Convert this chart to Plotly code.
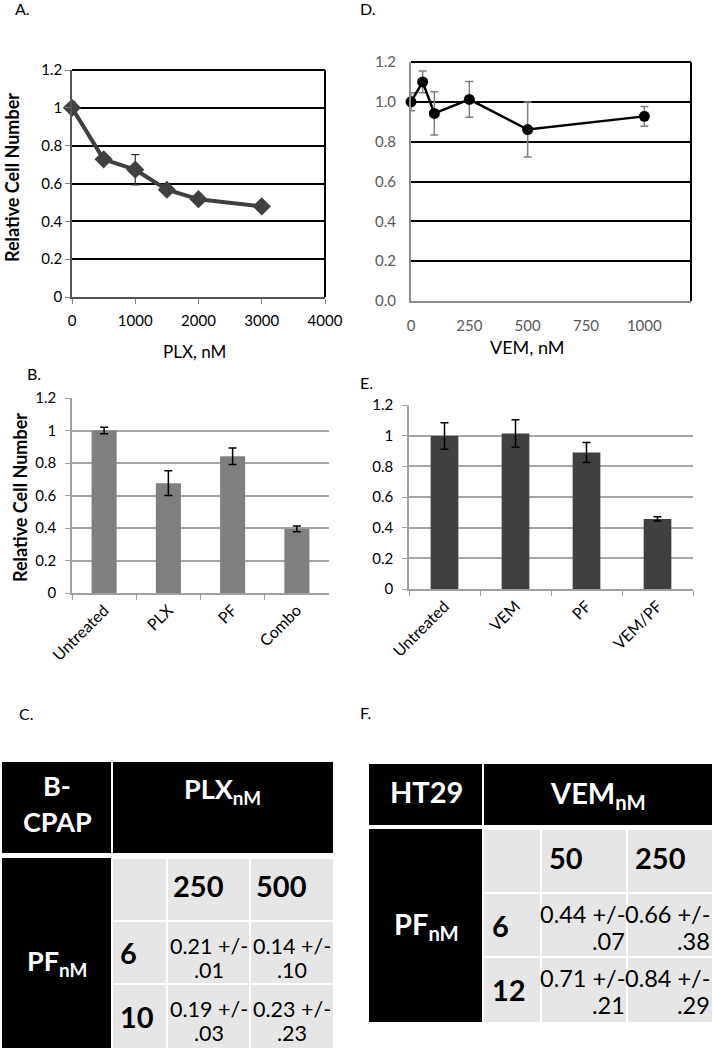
import plotly.graph_objects as go

FIG_W, FIG_H = 714, 1050
FONT = "Lato, Carlito, 'Open Sans', sans-serif"

# ---------------- data ----------------
# Panel A: PLX dose response
plx_dose = [0, 500, 1000, 1500, 2000, 3000]
plx_rel = [1.0, 0.728, 0.673, 0.567, 0.517, 0.479]
plx_err = [0.03, 0.02, 0.08, 0.02, 0.012, 0.022]
plx_xticks = [0, 1000, 2000, 3000, 4000]

# Panel D: VEM dose response
vem_dose = [0, 50, 100, 250, 500, 1000]
vem_rel = [1.0, 1.10, 0.942, 1.012, 0.861, 0.927]
vem_err = [0.045, 0.055, 0.108, 0.09, 0.138, 0.05]
vem_xticks = [0, 250, 500, 750, 1000]

# Panel B: bars
b_cats = ["Untreated", "PLX", "PF", "Combo"]
b_vals = [1.0, 0.676, 0.842, 0.395]
b_err = [0.02, 0.076, 0.051, 0.018]

# Panel E: bars
e_cats = ["Untreated", "VEM", "PF", "VEM/PF"]
e_vals = [0.998, 1.014, 0.89, 0.457]
e_err = [0.087, 0.089, 0.065, 0.014]

# Panel C table
c_corner = ["B-", "CPAP"]
c_col_title = "PLX<sub>nM</sub>"
c_row_title = "PF<sub>nM</sub>"
c_col_labels = ["250", "500"]
c_row_labels = ["6", "10"]
c_line1 = [["0.21 +/-", "0.14 +/-"], ["0.19 +/-", "0.23 +/-"]]
c_line2 = [[".01", ".10"], [".03", ".23"]]

# Panel F table
f_corner = ["HT29"]
f_col_title = "VEM<sub>nM</sub>"
f_row_title = "PF<sub>nM</sub>"
f_col_labels = ["50", "250"]
f_row_labels = ["6", "12"]
f_line1 = [["0.44 +/-", "0.66 +/-"], ["0.71 +/-", "0.84 +/-"]]
f_line2 = [[".07", ".38"], [".21", ".29"]]


def dom_x(a, b):
    return [a / FIG_W, b / FIG_W]


def dom_y(top, bottom):
    return [1 - bottom / FIG_H, 1 - top / FIG_H]


def py(p):
    return 1 - p / FIG_H


fig = go.Figure()

# ---------------- traces ----------------
fig.add_trace(go.Scatter(
    x=plx_dose, y=plx_rel, mode="lines+markers", xaxis="x", yaxis="y",
    line=dict(color="#404040", width=4),
    marker=dict(symbol="diamond", size=14, color="#404040"),
    error_y=dict(type="data", array=plx_err, color="#303030", thickness=1.2, width=4),
    cliponaxis=False, showlegend=False, hoverinfo="skip"))

fig.add_trace(go.Scatter(
    x=vem_dose, y=vem_rel, mode="lines+markers", xaxis="x2", yaxis="y2",
    line=dict(color="black", width=2.5),
    marker=dict(symbol="circle", size=11, color="black"),
    error_y=dict(type="data", array=vem_err, color="#7f7f7f", thickness=1.5, width=4),
    cliponaxis=False, showlegend=False, hoverinfo="skip"))

fig.add_trace(go.Bar(
    x=b_cats, y=b_vals, xaxis="x3", yaxis="y3", width=0.39,
    marker=dict(color="#7f7f7f", line=dict(width=0)),
    error_y=dict(type="data", array=b_err, color="black", thickness=1.5, width=4),
    showlegend=False, hoverinfo="skip"))

fig.add_trace(go.Bar(
    x=e_cats, y=e_vals, xaxis="x4", yaxis="y4", width=0.39,
    marker=dict(color="#404040", line=dict(width=0)),
    error_y=dict(type="data", array=e_err, color="black", thickness=1.5, width=4),
    showlegend=False, hoverinfo="skip"))

# invisible anchors for table axes
fig.add_trace(go.Scatter(x=[0], y=[0], xaxis="x5", yaxis="y5", mode="markers",
                         marker=dict(opacity=0), showlegend=False, hoverinfo="skip"))
fig.add_trace(go.Scatter(x=[0], y=[0], xaxis="x6", yaxis="y6", mode="markers",
                         marker=dict(opacity=0), showlegend=False, hoverinfo="skip"))

tick_black = dict(family=FONT, size=15, color="black")
tick_gray = dict(family=FONT, size=15, color="#595959")
cat_font = dict(family=FONT, size=16, color="black")

layout = dict(
    template="none",
    width=FIG_W, height=FIG_H, autosize=False,
    margin=dict(l=0, r=0, t=0, b=0, pad=0, autoexpand=False),
    paper_bgcolor="white", plot_bgcolor="white",
    font=dict(family=FONT, color="black"),
    showlegend=False,
    # A
    xaxis=dict(domain=dom_x(72, 325), anchor="y", range=[0, 4000], tickvals=plx_xticks,
               ticks="outside", ticklen=5, tickcolor="#808080", showline=True,
               linecolor="#555555", linewidth=1.5, showgrid=False, zeroline=False,
               tickfont=tick_black, ticklabelstandoff=4, automargin=False),
    yaxis=dict(domain=dom_y(70, 297), anchor="x", range=[0, 1.2], tick0=0, dtick=0.2,
               ticks="outside", ticklen=5, tickcolor="#808080", showline=True,
               linecolor="#555555", linewidth=1.5, showgrid=True, gridcolor="black",
               gridwidth=1.5, zeroline=False, tickfont=tick_black, automargin=False),
    # D
    xaxis2=dict(domain=dom_x(411, 691), anchor="y2", range=[0, 1200], tickvals=vem_xticks,
                ticks="", showline=True, linecolor="#8c8c8c", linewidth=2,
                showgrid=False, zeroline=False, tickfont=tick_gray, ticklabelstandoff=10,
                automargin=False),
    yaxis2=dict(domain=dom_y(62, 301), anchor="x2", range=[0, 1.2], tick0=0, dtick=0.2,
                tickformat=".1f", ticks="", showline=True, linecolor="#8c8c8c", linewidth=2,
                showgrid=True, gridcolor="black", gridwidth=1.5, zeroline=False,
                tickfont=tick_gray, ticklabelstandoff=10, automargin=False),
    # B
    xaxis3=dict(domain=dom_x(72, 329), anchor="y3", type="category", range=[-0.5, 3.5],
                tickangle=-45, ticks="outside", tickson="boundaries", ticklen=5,
                tickcolor="#a0a0a0", showline=True, linecolor="#a0a0a0", linewidth=1.5,
                showgrid=False, zeroline=False, tickfont=cat_font, automargin=False),
    yaxis3=dict(domain=dom_y(398, 593), anchor="x3", range=[0, 1.2], tick0=0, dtick=0.2,
                ticks="outside", ticklen=5, tickcolor="#a0a0a0", showline=True,
                linecolor="#a0a0a0", linewidth=1.5, showgrid=True, gridcolor="#a6a6a6",
                gridwidth=1.5, zeroline=False, tickfont=tick_black, ticklabelstandoff=6,
                automargin=False),
    # E
    xaxis4=dict(domain=dom_x(409, 693), anchor="y4", type="category", range=[-0.5, 3.5],
                tickangle=-45, ticks="outside", tickson="boundaries", ticklen=5,
                tickcolor="#a0a0a0", showline=True, linecolor="#a0a0a0", linewidth=1.5,
                showgrid=False, zeroline=False, tickfont=cat_font, automargin=False),
    yaxis4=dict(domain=dom_y(405, 589), anchor="x4", range=[0, 1.2], tick0=0, dtick=0.2,
                ticks="outside", ticklen=5, tickcolor="#a0a0a0", showline=True,
                linecolor="#a0a0a0", linewidth=1.5, showgrid=True, gridcolor="#a6a6a6",
                gridwidth=1.5, zeroline=False, tickfont=tick_black, ticklabelstandoff=6,
                automargin=False),
)

# ---------------- tables ----------------
C_geo = dict(x0=2, x1=333, top=762, colw=[110, 55, 83, 83], head_h=91, head_gap=5,
             rowh=[63, 63, 64])
F_geo = dict(x0=369, x1=712, top=764, colw=[114, 58, 86, 85], head_h=61, head_gap=4,
             rowh=[64, 64, 65])

total_c = C_geo["head_h"] + C_geo["head_gap"] + sum(C_geo["rowh"])
total_f = F_geo["head_h"] + F_geo["head_gap"] + sum(F_geo["rowh"])

layout["xaxis5"] = dict(domain=dom_x(C_geo["x0"], C_geo["x1"]), anchor="y5",
                        range=[0, sum(C_geo["colw"])], visible=False, fixedrange=True,
                        automargin=False)
layout["yaxis5"] = dict(domain=dom_y(C_geo["top"], C_geo["top"] + total_c), anchor="x5",
                        range=[total_c, 0], visible=False, fixedrange=True, automargin=False)
layout["xaxis6"] = dict(domain=dom_x(F_geo["x0"], F_geo["x1"]), anchor="y6",
                        range=[0, sum(F_geo["colw"])], visible=False, fixedrange=True,
                        automargin=False)
layout["yaxis6"] = dict(domain=dom_y(F_geo["top"], F_geo["top"] + total_f), anchor="x6",
                        range=[total_f, 0], visible=False, fixedrange=True, automargin=False)

fig.update_layout(**layout)

shapes = []
annotations = []


def build_table(xr, yr, geo, corner, col_title, row_title, col_labels, row_labels,
                line1, line2, st):
    colw = geo["colw"]
    xe = [0]
    for w in colw:
        xe.append(xe[-1] + w)
    hh = geo["head_h"]
    body0 = hh + geo["head_gap"]
    ye = [body0]
    for h in geo["rowh"]:
        ye.append(ye[-1] + h)
    g = 1  # half gap

    def rect(xa, xb, ya, yb, color):
        shapes.append(dict(type="rect", xref=xr, yref=yr, x0=xa, x1=xb, y0=ya, y1=yb,
                           fillcolor=color, line=dict(width=0), layer="below"))

    rect(xe[0], xe[1] - g, 0, hh, "black")
    rect(xe[1] + g, xe[-1], 0, hh, "black")
    rect(xe[0], xe[1] - g, body0, ye[-1], "black")
    for r in range(3):
        for c in range(1, 4):
            rect(xe[c] + g, xe[c + 1] - (0 if c == 3 else g),
                 ye[r] + g, ye[r + 1] - (0 if r == 2 else g), "#e7e6e6")

    def ann(x, y, text, size, color="black", bold=False, xanchor="center"):
        t = "<b>" + text + "</b>" if bold else text
        annotations.append(dict(xref=xr, yref=yr, x=x, y=y, text=t, showarrow=False,
                                xanchor=xanchor, yanchor="middle", borderpad=0,
                                font=dict(family=FONT, size=size, color=color)))

    cx0 = (xe[0] + xe[1]) / 2
    n = len(corner)
    for i, t in enumerate(corner):
        y = st["corner_y"] + (i - (n - 1) / 2) * st["corner_ls"]
        ann(cx0, y, t, st["head_size"], "white", True)
    ann((xe[1] + xe[-1]) / 2, st["coltitle_y"], col_title, st["head_size"], "white", True)
    ann(cx0, (body0 + ye[-1]) / 2 + st["rowtitle_dy"], row_title, st["head_size"], "white", True)
    for j, t in enumerate(col_labels):
        ann(xe[j + 2] + st["pad"], (ye[0] + ye[1]) / 2 + st["collab_dy"], t,
            st["num_size"], "black", True, "left")
    for i, t in enumerate(row_labels):
        ann(xe[1] + st["rowpad"], (ye[i + 1] + ye[i + 2]) / 2, t,
            st["num_size"], "black", True, "left")
    for i in range(2):
        for j in range(2):
            top = ye[i + 1]
            if st["val_align"] == "center":
                x = (xe[j + 2] + xe[j + 3]) / 2
                xa = "center"
            else:
                x = xe[j + 3] - 1
                xa = "right"
            ann(x, top + st["l1_dy"], line1[i][j], st["val_size"], "black", False, xa)
            ann(x, top + st["l2_dy"], line2[i][j], st["val_size"], "black", False, xa)


build_table("x5", "y5", C_geo, c_corner, c_col_title, c_row_title, c_col_labels,
            c_row_labels, c_line1, c_line2,
            dict(corner_y=41, corner_ls=36, coltitle_y=28, rowtitle_dy=9, head_size=27,
                 num_size=29, val_size=21.5, pad=5, rowpad=7, collab_dy=-4,
                 val_align="center", l1_dy=25, l2_dy=49))
build_table("x6", "y6", F_geo, f_corner, f_col_title, f_row_title, f_col_labels,
            f_row_labels, f_line1, f_line2,
            dict(corner_y=27, corner_ls=30, coltitle_y=30, rowtitle_dy=0, head_size=29,
                 num_size=29, val_size=23.5, pad=7, rowpad=8, collab_dy=-4,
                 val_align="right", l1_dy=21, l2_dy=47.5))

# borders top/right for A and D
for xr, yr in (("x", "y"), ("x2", "y2")):
    shapes.append(dict(type="line", xref=xr + " domain", yref=yr + " domain",
                       x0=0, x1=1, y0=1, y1=1, line=dict(color="black", width=2)))
    shapes.append(dict(type="line", xref=xr + " domain", yref=yr + " domain",
                       x0=1, x1=1, y0=0, y1=1, line=dict(color="black", width=2)))

# panel letters
for txt, x, y in (("A.", 13, 8), ("D.", 358, 8), ("B.", 25, 373), ("E.", 358, 382),
                  ("C.", 17, 713), ("F.", 358, 712)):
    annotations.append(dict(xref="paper", yref="paper", x=x / FIG_W, y=py(y), text=txt,
                            showarrow=False, xanchor="left", yanchor="middle",
                            font=dict(family=FONT, size=16, color="black")))

# axis titles
annotations.append(dict(xref="paper", yref="paper", x=195 / FIG_W, y=py(351),
                        text="PLX, nM", showarrow=False, xanchor="center", yanchor="middle",
                        font=dict(family=FONT, size=17, color="black")))
annotations.append(dict(xref="paper", yref="paper", x=527 / FIG_W, y=py(347),
                        text="VEM, nM", showarrow=False, xanchor="center", yanchor="middle",
                        font=dict(family=FONT, size=18, color="black")))
for y in (178, 498):
    annotations.append(dict(xref="paper", yref="paper", x=(12 if y < 300 else 20) / FIG_W,
                            y=py(y), text="<b>Relative Cell Number</b>", textangle=-90,
                            showarrow=False, xanchor="center", yanchor="middle",
                            font=dict(family=FONT, size=18, color="black")))

fig.update_layout(shapes=shapes, annotations=annotations)

fig.write_html("out.html", config={"displayModeBar": False},
               post_script="document.body.style.margin='0px';document.body.style.padding='0px';")
